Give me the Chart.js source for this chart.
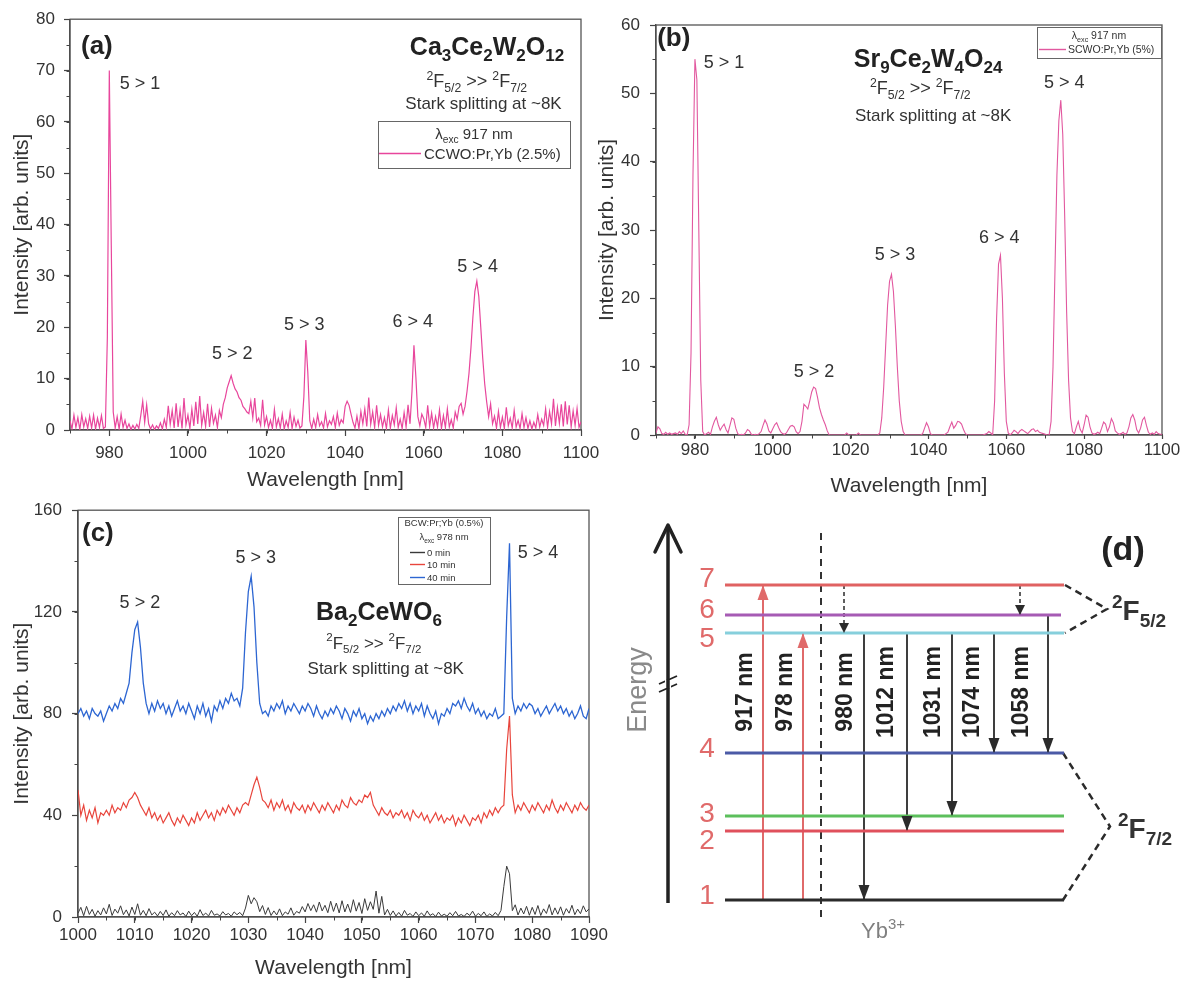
<!DOCTYPE html>
<html>
<head>
<meta charset="utf-8">
<script src="https://cdn.jsdelivr.net/npm/chart.js@4.4.1/dist/chart.umd.min.js"></script>
<style>
  html, body { margin: 0; padding: 0; background: #fff; }
  #wrap { position: relative; width: 1188px; height: 982px; overflow: hidden; background: #fff; }
  canvas { position: absolute; }
</style>
</head>
<body>
<div id="wrap">
  <canvas id="pa" width="610" height="505" style="left:0;top:0;width:610px;height:505px"></canvas>
  <canvas id="pb" width="598" height="505" style="left:590px;top:0;width:598px;height:505px"></canvas>
  <canvas id="pc" width="610" height="492" style="left:0;top:490px;width:610px;height:492px"></canvas>
  <canvas id="pd" width="588" height="492" style="left:600px;top:490px;width:588px;height:492px"></canvas>
</div>
<script>
// ---------- Spectra (a) and (b): 970-1100 nm, 0.5 nm grid ----------
const startAB = 970, stepAB = 0.5;

const intensityA = [
  1.8, 0.2, 2.9, 0.5, 2.4, 0.1, 3.0, 0.6, 2.2, 0.3,
  2.7, 0.4, 2.9, 0.2, 2.3, 0.5, 2.8, 0.3, 0.6, 18,
  70, 36, 3.5, 0.4, 2.6, 0.2, 3.1, 0.5, 1.9, 0.3,
  1.2, 0.1, 0.9, 0.2, 1.1, 0.3, 2.8, 5.6, 1.5, 4.9,
  1.2, 0.2, 1.0, 0.1, 0.8, 0.3, 1.4, 0.2, 2.1, 0.5,
  4.7, 1.1, 3.8, 0.4, 5.2, 0.6, 3.9, 0.3, 6.2, 1.0,
  2.9, 0.3, 4.1, 0.8, 5.5, 1.2, 6.6, 0.9, 3.4, 0.7,
  5.1, 0.6, 4.2, 1.3, 2.9, 0.5, 3.8, 2.4, 5.0, 6.3,
  8.2, 9.4, 10.6, 9.1, 8.0, 7.4, 6.3, 5.8, 4.6, 4.1,
  3.5, 3.2, 5.6, 2.4, 6.2, 1.6, 2.3, 0.9, 5.9, 1.0,
  2.6, 0.5, 1.9, 0.3, 4.0, 0.6, 2.2, 0.4, 3.1, 0.2,
  1.8, 0.5, 3.4, 0.3, 2.5, 0.7, 1.9, 0.4, 0.8, 6.5,
  17.5, 11.2, 1.8, 0.3, 2.1, 0.5, 3.0, 0.8, 1.6, 0.4,
  3.2, 0.6, 1.8, 1.1, 2.6, 0.5, 3.3, 0.9, 2.0, 1.4,
  4.6, 5.6, 4.8, 3.1, 1.5, 0.4, 2.7, 0.3, 3.6, 1.2,
  4.1, 0.7, 6.3, 1.1, 3.5, 0.5, 4.8, 0.9, 3.0, 0.6,
  2.4, 0.3, 3.9, 0.4, 2.8, 1.0, 4.3, 0.5, 2.1, 0.3,
  3.4, 0.6, 4.9, 1.2, 7.5, 16.5, 10.2, 2.6, 0.8, 3.1,
  2.2, 0.5, 4.8, 0.7, 3.3, 0.4, 2.6, 0.6, 3.9, 0.3,
  2.8, 0.5, 4.1, 0.6, 2.0, 0.4, 3.5, 2.1, 4.6, 5.2,
  3.1, 4.6, 7.5, 11.0, 16.0, 22.0, 27.0, 29.0, 26.0, 20.0,
  14.0, 9.0, 5.5, 2.6, 5.1, 1.2, 2.7, 0.4, 3.6, 0.5,
  2.5, 0.3, 4.4, 0.8, 2.3, 0.4, 3.8, 0.6, 1.9, 0.3,
  3.2, 0.5, 2.4, 0.3, 1.8, 0.2, 1.5, 0.4, 3.0, 0.6,
  2.1, 0.9, 4.1, 0.5, 3.6, 1.2, 6.1, 0.8, 4.4, 1.3,
  5.0, 0.7, 5.6, 1.1, 4.8, 0.6, 3.7, 0.9, 4.2, 0.5,
  1.6
];

const intensityB = [
  0.3, 1.2, 0.9, 0.2, 0.1, 0.4, 0.1, 0.3, 0.1, 0.2,
  0.3, 0.1, 0.5, 0.2, 0.6, 0.1, 0.0, 1.5, 12, 38,
  55, 52, 30, 8, 0.5, 0.0, 0.2, 0.4, 0.1, 1.2,
  2.0, 2.6, 1.5, 0.7, 1.2, 1.6, 0.8, 0.3, 1.4, 2.5,
  2.3, 1.0, 0.2, 0.0, 0.1, 0.0, 0.3, 0.8, 0.6, 0.1,
  0.0, 0.1, 0.0, 0.2, 0.5, 1.4, 2.2, 1.6, 0.6, 0.3,
  0.9, 1.5, 1.8, 1.1, 0.5, 0.2, 0.1, 0.3, 0.8, 1.3,
  1.4, 1.2, 0.5, 0.2, 0.5, 2.0, 4.5, 4.2, 3.8, 5.0,
  6.3, 7.0, 6.8, 5.5, 4.0, 3.0, 2.2, 1.5, 0.6, 0.0,
  0.0, 0.0, 0.0, 0.0, 0.0, 0.0, 0.0, 0.0, 0.3, 0.0,
  0.0, 0.0, 0.0, 0.0, 0.3, 0.0, 0.0, 0.0, 0.0, 0.0,
  0.0, 0.0, 0.0, 0.0, 0.0, 0.3, 2.5, 7, 13, 19,
  22.5, 23.5, 21, 16, 10, 5, 2, 0.5, 0.0, 0.0,
  0.0, 0.0, 0.0, 0.0, 0.0, 0.0, 0.0, 0.2, 1.0, 1.8,
  1.2, 0.2, 0.0, 0.0, 0.0, 0.0, 0.0, 0.0, 0.0, 0.2,
  0.4, 1.2, 1.9, 1.0, 1.4, 2.0, 1.9, 1.6, 0.8, 0.2,
  0.0, 0.0, 0.0, 0.0, 0.0, 0.0, 0.0, 0.0, 0.0, 0.1,
  0.2, 0.5, 0.3, 0.0, 5, 17, 25, 26.3, 20, 9,
  2, 0.3, 0.0, 0.3, 0.7, 0.5, 0.2, 0.6, 0.8, 0.6,
  0.4, 0.2, 0.5, 0.8, 0.9, 0.5, 0.7, 0.4, 0.3, 0.2,
  0.1, 0.0, 0.0, 2, 10, 24, 38, 46, 49, 44,
  32, 18, 8, 2.5, 0.5, 0.2, 1.2, 2.0, 0.8, 0.3,
  1.5, 2.9, 2.6, 1.2, 0.3, 0.1, 0.2, 0.4, 0.2, 1.0,
  1.9, 1.6, 0.5, 1.2, 2.4, 1.8, 0.6, 0.3, 0.1, 0.2,
  0.4, 0.1, 0.3, 1.2, 2.5, 3.0, 2.2, 0.8, 0.3, 1.0,
  2.2, 2.6, 1.4, 0.4, 0.1, 0.3, 0.1, 0.5, 0.2, 0.1,
  0.1
];

// ---------- Spectra (c): 1000-1090 nm, 0.5 nm grid ----------
const startC = 1000, stepC = 0.5;

const intensity0min = [
  1.5, 3.8, 0.5, 4.2, 1.0, 3.0, 0.3, 2.5, 0.8, 3.6,
  1.2, 5.0, 0.6, 3.1, 1.5, 4.4, 0.9, 2.8, 0.4, 3.9,
  1.0, 5.2, 0.7, 2.6, 0.5, 3.3, 0.8, 1.9, 0.4, 2.2,
  0.6, 2.8, 0.3, 1.7, 0.5, 2.5, 0.8, 1.6, 0.2, 2.3,
  0.5, 1.8, 0.3, 2.9, 0.6, 1.5, 0.4, 2.6, 0.7, 1.2,
  0.4, 2.1, 0.8, 1.4, 0.3, 2.0, 0.9, 1.8, 0.5, 3.5,
  8.5, 5.2, 7.6, 6.0, 2.1, 4.5, 1.0, 3.7, 0.6, 2.4,
  0.8, 3.2, 0.5, 2.0, 1.1, 3.6, 0.7, 2.2, 1.5, 4.1,
  2.0, 5.3, 2.5, 4.8, 1.9, 5.9, 2.4, 4.6, 1.7, 6.2,
  2.2, 5.5, 1.6, 6.4, 2.0, 5.1, 1.8, 6.8, 2.3, 5.7,
  1.4, 7.2, 2.6, 6.0, 3.0, 10.2, 1.5, 8.1, 0.8, 3.0,
  0.6, 2.4, 0.4, 1.8, 0.3, 2.6, 0.7, 1.4, 0.2, 2.0,
  0.5, 1.6, 0.3, 2.4, 0.6, 1.3, 0.2, 1.9, 0.4, 1.1,
  0.3, 1.7, 0.5, 2.2, 0.4, 1.0, 0.2, 1.5, 0.6, 2.3,
  0.3, 1.4, 0.5, 2.0, 0.2, 1.2, 0.4, 1.8, 0.5, 2.6,
  12, 20, 17, 2.5, 4.8, 0.8, 3.5, 1.2, 4.2, 0.7,
  3.8, 1.0, 4.5, 0.6, 3.2, 1.4, 4.9, 0.8, 3.6, 1.1,
  4.0, 0.7, 3.3, 1.5, 4.6, 0.9, 3.1, 1.3, 4.4, 2.0,
  3.2
];

const intensity10min = [
  50, 40, 44, 38, 42, 39, 43, 37, 41, 40,
  42, 40, 44, 41, 43, 42, 45, 43, 46, 47,
  49, 47, 44, 42, 40, 43, 39, 41, 38, 40,
  37, 39, 41, 38, 36, 39, 37, 40, 38, 36,
  39, 37, 41, 38, 40, 42, 39, 41, 38, 42,
  40, 43, 41, 44, 42, 40, 43, 41, 44, 45,
  44, 48, 52, 55, 51, 46, 45, 43, 46, 42,
  45, 43, 46, 42, 44, 41, 45, 43, 42, 44,
  41, 44, 42, 45, 43, 41, 44, 42, 45, 43,
  41, 44, 42, 46, 44, 43, 47, 45, 44, 46,
  45, 48, 47, 49, 44, 42, 40, 43, 41, 40,
  42, 39, 41, 40, 42, 39, 41, 38, 42, 40,
  39, 41, 38, 40, 37, 39, 41, 38, 40, 37,
  39, 38, 40, 36, 39, 37, 40, 38, 36, 39,
  38, 40, 37, 41, 39, 42, 40, 43, 41, 43,
  44, 66, 79, 48, 41, 44, 42, 45, 43, 41,
  44, 42, 45, 43, 41, 44, 42, 46, 43, 41,
  44, 42, 45, 43, 41, 44, 42, 45, 43, 42,
  44
];

const intensity40min = [
  80, 82, 79, 81, 78, 82, 80, 79, 81, 77,
  80, 83, 81, 84, 82, 86, 84, 88, 92, 104,
  113, 116, 106, 92, 84, 80, 84, 81, 85, 82,
  84, 80, 83, 79, 82, 85, 81, 83, 80, 84,
  81, 78, 83, 80, 84, 79, 82, 77, 83, 81,
  85, 82, 86, 84, 88, 85, 86, 83, 90, 112,
  128, 134, 122, 100, 84, 80, 81, 79, 83, 81,
  84, 82, 85, 80, 83, 81, 84, 82, 80, 83,
  81, 84, 82, 79, 83, 80, 78, 81, 79, 82,
  80, 83, 81, 78, 82, 80, 77, 81, 79, 82,
  78, 80, 76, 79, 77, 80, 78, 81, 79, 82,
  80, 83, 81, 84, 82, 85, 81, 84, 80, 83,
  81, 84, 79, 83, 80, 78, 81, 76, 80, 79,
  82, 80, 84, 83, 85, 82, 86, 83, 81, 84,
  80, 82, 79, 81, 78, 80, 79, 82, 78, 79,
  80, 118, 147, 86, 80, 83, 81, 84, 82, 84,
  83, 80, 82, 79, 81, 83, 80, 82, 84, 81,
  83, 80, 82, 79, 81, 78, 80, 83, 79, 78,
  82
];

// Peak assignment labels (text, wavelength, intensity where the text sits)
const peakTextA = ['5 > 1', '5 > 2', '5 > 3', '6 > 4', '5 > 4'];
const peakTextXA = [987.8, 1011.3, 1029.6, 1057.2, 1073.7];
const peakTextYA = [67.6, 15.0, 20.8, 21.4, 32.0];

const peakTextB = ['5 > 1', '5 > 2', '5 > 3', '6 > 4', '5 > 4'];
const peakTextXB = [987.5, 1010.6, 1031.4, 1058.2, 1074.9];
const peakTextYB = [54.6, 9.5, 26.6, 29.0, 51.7];

const peakTextC = ['5 > 2', '5 > 3', '5 > 4'];
const peakTextXC = [1010.9, 1031.3, 1081.0];
const peakTextYC = [123.9, 141.7, 143.7];

// ---------- Energy-level scheme (d), schematic units ----------
const levelNames = ['1', '2', '3', '4', '5', '6', '7'];
const levelEnergy = [8.2, 15.1, 16.6, 22.9, 34.9, 36.7, 39.7];
const levelStart = 12.5;
const levelEnd = [46.4, 46.4, 46.4, 46.4, 46.4, 46.1, 46.4];
const levelNameY = [8.8, 14.3, 17.0, 23.5, 34.5, 37.4, 40.5];

const transLabels = ['917 nm', '978 nm', '980 nm', '1012 nm', '1031 nm', '1074 nm', '1058 nm'];
const transFrom = [1, 1, 5, 5, 5, 5, 6];
const transTo = [7, 5, 1, 2, 3, 4, 4];
const transX = [16.3, 20.3, 26.4, 30.7, 35.2, 39.4, 44.8];
const transLabelX = [14.4, 18.4, 24.4, 28.5, 33.2, 37.1, 42.0];

const relaxFrom = [7, 7];
const relaxTo = [5, 6];
const relaxX = [24.4, 42.0];

// ---------- styling ----------
const FONT = "'Liberation Sans', Arial, Helvetica, sans-serif";
Chart.defaults.font.family = FONT;
Chart.defaults.color = '#333';

const levelColors = ['#2b2b2b', '#e0505c', '#5cbf5c', '#4b5aa6', '#86cfdc', '#a65bb4', '#e06262'];
const F_TRANS = [['2', 'sup'], ['F'], ['5/2', 'sub'], [' >> '], ['2', 'sup'], ['F'], ['7/2', 'sub']];

// ---------- helpers ----------
function partFont(size, weight, kind) {
  const s = kind ? size * 0.68 : size;
  return `${weight} ${s}px ${FONT}`;
}
function richWidth(ctx, parts, size, weight) {
  let w = 0;
  for (const [t, k] of parts) { ctx.font = partFont(size, weight, k); w += ctx.measureText(t).width; }
  return w;
}
// draws a run of text with sub/superscripts; (px, py) is the visual middle
function drawRich(ctx, item, px, py) {
  const size = item.size, weight = item.weight || 'normal';
  ctx.save();
  ctx.translate(px, py);
  if (item.rotate) ctx.rotate(item.rotate);
  const w = richWidth(ctx, item.parts, size, weight);
  let x = item.align === 'left' ? 0 : item.align === 'right' ? -w : -w / 2;
  ctx.textAlign = 'left';
  ctx.textBaseline = 'alphabetic';
  ctx.fillStyle = item.color || '#333';
  for (const [t, k] of item.parts) {
    ctx.font = partFont(size, weight, k);
    let dy = size * 0.36;
    if (k === 'sub') dy += size * 0.26;
    if (k === 'sup') dy -= size * 0.42;
    ctx.fillText(t, x, dy);
    x += ctx.measureText(t).width;
  }
  ctx.restore();
}
function points(start, step, values) {
  return values.map((v, i) => ({ x: start + step * i, y: v }));
}

// ---------- plugins ----------
function framePlugin(c) {
  return {
    id: 'frame',
    beforeDatasetsDraw(chart) {
      const { ctx, chartArea: a, scales: { x, y } } = chart;
      ctx.save();
      ctx.strokeStyle = '#555';
      ctx.lineWidth = 1.3;
      ctx.strokeRect(a.left, a.top, a.right - a.left, a.bottom - a.top);
      ctx.lineWidth = 1;
      ctx.strokeStyle = '#444';
      ctx.beginPath();
      for (let v = Math.ceil(x.min / c.xMinor) * c.xMinor; v <= x.max + 1e-9; v += c.xMinor) {
        const px = Math.round(x.getPixelForValue(v)) + 0.5;
        ctx.moveTo(px, a.bottom); ctx.lineTo(px, a.bottom + 3.5);
      }
      for (let v = Math.ceil(y.min / c.yMinor) * c.yMinor; v <= y.max + 1e-9; v += c.yMinor) {
        const py = Math.round(y.getPixelForValue(v)) + 0.5;
        ctx.moveTo(a.left, py); ctx.lineTo(a.left - 3.5, py);
      }
      ctx.stroke();
      ctx.restore();
    }
  };
}
function notesPlugin(items) {
  return {
    id: 'notes',
    afterDatasetsDraw(chart) {
      const { ctx, scales: { x, y } } = chart;
      for (const it of items) drawRich(ctx, it, x.getPixelForValue(it.x), y.getPixelForValue(it.y));
    }
  };
}
function boxLegendPlugin(o) {
  return {
    id: 'boxLegend',
    afterDraw(chart) {
      const { ctx, chartArea: a } = chart;
      const left = Math.round(a.right - o.right - o.width), top = Math.round(a.top + o.top);
      ctx.save();
      ctx.fillStyle = '#fff';
      ctx.fillRect(left, top, o.width, o.height);
      ctx.strokeStyle = '#666';
      ctx.lineWidth = 1;
      ctx.strokeRect(left + 0.5, top + 0.5, o.width, o.height);
      o.header.forEach((parts, k) => drawRich(ctx, { parts, size: o.size, align: 'center', color: '#333' }, left + o.width / 2, top + o.headerY[k]));
      o.items.forEach((di, k) => {
        const ds = chart.data.datasets[di];
        const yy = top + o.itemY[k] + 0.5;
        ctx.strokeStyle = ds.borderColor;
        ctx.lineWidth = 1.4;
        ctx.beginPath(); ctx.moveTo(left + o.lineFrom, yy); ctx.lineTo(left + o.lineTo, yy); ctx.stroke();
        drawRich(ctx, { parts: [[ds.label]], size: o.size, align: 'left', color: '#333' }, left + o.textAt, yy);
      });
      ctx.restore();
    }
  };
}
const arrowPlugin = {
  id: 'arrowHeads',
  afterDatasetsDraw(chart) {
    const ctx = chart.ctx;
    chart.data.datasets.forEach((ds, i) => {
      if (!ds.arrow) return;
      const pts = chart.getDatasetMeta(i).data;
      const p1 = pts[pts.length - 1], p0 = pts[pts.length - 2];
      const ang = Math.atan2(p1.y - p0.y, p1.x - p0.x);
      const L = ds.arrow.length, W = ds.arrow.half;
      ctx.save();
      ctx.translate(p1.x, p1.y);
      ctx.rotate(ang);
      ctx.beginPath();
      if (ds.arrow.open) {
        ctx.moveTo(-L, -W); ctx.lineTo(0, 0); ctx.lineTo(-L, W);
        ctx.strokeStyle = ds.borderColor; ctx.lineWidth = ds.borderWidth;
        ctx.lineCap = 'round'; ctx.lineJoin = 'round';
        ctx.stroke();
      } else {
        ctx.moveTo(0, 0); ctx.lineTo(-L, -W); ctx.lineTo(-L, W); ctx.closePath();
        ctx.fillStyle = ds.borderColor; ctx.fill();
      }
      ctx.restore();
    });
  }
};

// ---------- spectrum chart builder ----------
function spectrumChart(id, c) {
  return new Chart(document.getElementById(id), {
    type: 'line',
    data: { datasets: c.datasets },
    options: {
      responsive: false,
      animation: false,
      devicePixelRatio: 1,
      events: [],
      layout: { padding: c.padding },
      elements: { point: { radius: 0 }, line: { tension: 0 } },
      plugins: { legend: { display: false }, tooltip: { enabled: false } },
      scales: {
        x: {
          type: 'linear', min: c.xMin, max: c.xMax,
          ticks: { stepSize: c.xStep, padding: c.xTickPad, maxRotation: 0, autoSkip: false, color: '#333', font: { size: 17 }, callback: v => String(v) },
          afterBuildTicks: s => {
            const t = [];
            for (let v = Math.ceil(c.xMin / c.xStep) * c.xStep; v <= c.xMax + 1e-9; v += c.xStep) t.push({ value: v });
            s.ticks = t;
          },
          afterFit: s => { s.height = c.xHeight; },
          grid: { drawOnChartArea: false, drawTicks: true, tickLength: c.xTickLen, color: '#444', tickColor: '#444', tickWidth: 1.2 },
          border: { display: true, color: '#444', width: 1.3 },
          title: { display: true, text: 'Wavelength [nm]', color: '#333', font: { size: 21, lineHeight: 1.2 }, padding: { top: 0, bottom: c.xTitlePad } }
        },
        y: {
          type: 'linear', min: 0, max: c.yMax,
          ticks: { stepSize: c.yStep, padding: c.yTickPad, color: '#333', font: { size: 17 }, callback: v => String(v) },
          afterFit: s => { s.width = c.yWidth; },
          grid: { drawOnChartArea: false, drawTicks: true, tickLength: 6, color: '#444', tickColor: '#444', tickWidth: 1.2 },
          border: { display: true, color: '#444', width: 1.3 },
          title: { display: true, text: 'Intensity [arb. units]', color: '#333', font: { size: 21, lineHeight: 1.2 }, padding: { top: c.yTitlePad, bottom: 0 } }
        }
      }
    },
    plugins: [framePlugin(c), notesPlugin(c.notes), boxLegendPlugin(c.legend)]
  });
}
function peakNotes(texts, xs, ys) {
  return texts.map((t, i) => ({ x: xs[i], y: ys[i], parts: [[t]], size: 18, align: 'center', color: '#333' }));
}

// ---------- (a) Ca3Ce2W2O12 ----------
spectrumChart('pa', {
  datasets: [{ label: 'CCWO:Pr,Yb (2.5%)', data: points(startAB, stepAB, intensityA), borderColor: '#e8469c', borderWidth: 1.2 }],
  padding: { left: 0, top: 18, right: 29, bottom: 0 },
  xMin: 970, xMax: 1100, xStep: 20, xMinor: 10, xTickPad: 7, xTickLen: 6, xHeight: 75, xTitlePad: 12,
  yMax: 80, yStep: 10, yMinor: 5, yTickPad: 9, yWidth: 70, yTitlePad: 10,
  notes: [
    { x: 972.8, y: 75.1, parts: [['(a)']], size: 26, weight: 'bold', align: 'left', color: '#222' },
    { x: 1095.7, y: 74.8, parts: [['Ca'], ['3', 'sub'], ['Ce'], ['2', 'sub'], ['W'], ['2', 'sub'], ['O'], ['12', 'sub']], size: 25, weight: 'bold', align: 'right', color: '#222' },
    { x: 1073.5, y: 68.0, parts: F_TRANS, size: 18, align: 'center', color: '#333' },
    { x: 1075.2, y: 63.7, parts: [['Stark splitting at ~8K']], size: 17, align: 'center', color: '#333' }
  ].concat(peakNotes(peakTextA, peakTextXA, peakTextYA)),
  legend: {
    right: 11, top: 102, width: 192, height: 47, size: 15,
    header: [[['λ'], ['exc', 'sub'], [' 917 nm']]], headerY: [13],
    items: [0], itemY: [32], lineFrom: 1, lineTo: 43, textAt: 46
  }
});

// ---------- (b) Sr9Ce2W4O24 ----------
spectrumChart('pb', {
  datasets: [{ label: 'SCWO:Pr,Yb (5%)', data: points(startAB, stepAB, intensityB), borderColor: '#e2589f', borderWidth: 1.1 }],
  padding: { left: 0, top: 25, right: 26, bottom: 0 },
  xMin: 970, xMax: 1100, xStep: 20, xMinor: 10, xTickPad: 1, xTickLen: 4, xHeight: 70, xTitlePad: 6,
  yMax: 60, yStep: 10, yMinor: 5, yTickPad: 10, yWidth: 66, yTitlePad: 5,
  notes: [
    { x: 970.3, y: 58.3, parts: [['(b)']], size: 26, weight: 'bold', align: 'left', color: '#222' },
    { x: 1039.9, y: 55.2, parts: [['Sr'], ['9', 'sub'], ['Ce'], ['2', 'sub'], ['W'], ['4', 'sub'], ['O'], ['24', 'sub']], size: 25, weight: 'bold', align: 'center', color: '#222' },
    { x: 1037.9, y: 50.8, parts: F_TRANS, size: 18, align: 'center', color: '#333' },
    { x: 1041.2, y: 46.9, parts: [['Stark splitting at ~8K']], size: 17, align: 'center', color: '#333' }
  ].concat(peakNotes(peakTextB, peakTextXB, peakTextYB)),
  legend: {
    right: 1, top: 2, width: 124, height: 31, size: 10.5,
    header: [[['λ'], ['exc', 'sub'], [' 917 nm']]], headerY: [8],
    items: [0], itemY: [22], lineFrom: 2, lineTo: 29, textAt: 31
  }
});

// ---------- (c) Ba2CeWO6 ----------
spectrumChart('pc', {
  datasets: [
    { label: '0 min', data: points(startC, stepC, intensity0min), borderColor: '#3a3a3a', borderWidth: 1 },
    { label: '10 min', data: points(startC, stepC, intensity10min), borderColor: '#e8453c', borderWidth: 1.2 },
    { label: '40 min', data: points(startC, stepC, intensity40min), borderColor: '#2d66d2', borderWidth: 1.3 }
  ],
  padding: { left: 0, top: 15, right: 21, bottom: 0 },
  xMin: 1000, xMax: 1090, xStep: 10, xMinor: 5, xTickPad: 2, xTickLen: 6, xHeight: 65, xTitlePad: 1,
  yMax: 160, yStep: 40, yMinor: 20, yTickPad: 10, yWidth: 78, yTitlePad: 10,
  notes: [
    { x: 1000.7, y: 151.5, parts: [['(c)']], size: 26, weight: 'bold', align: 'left', color: '#222' },
    { x: 1053.0, y: 120.4, parts: [['Ba'], ['2', 'sub'], ['CeWO'], ['6', 'sub']], size: 25, weight: 'bold', align: 'center', color: '#222' },
    { x: 1052.1, y: 108.0, parts: F_TRANS, size: 17, align: 'center', color: '#333' },
    { x: 1054.2, y: 98.0, parts: [['Stark splitting at ~8K']], size: 17, align: 'center', color: '#333' }
  ].concat(peakNotes(peakTextC, peakTextXC, peakTextYC)),
  legend: {
    right: 99, top: 7, width: 92, height: 67, size: 9.5,
    header: [[['BCW:Pr;Yb (0.5%)']], [['λ'], ['exc', 'sub'], [' 978 nm']]], headerY: [6, 20],
    items: [0, 1, 2], itemY: [35, 47, 60], lineFrom: 12, lineTo: 27, textAt: 29
  }
});

// ---------- (d) Yb3+ Stark-level scheme ----------
const E = n => levelEnergy[n - 1];
const diagram = [];
levelEnergy.forEach((e, i) => diagram.push({
  data: [{ x: levelStart, y: e }, { x: levelEnd[i], y: e }], borderColor: levelColors[i], borderWidth: 3
}));
// Yb3+ separator
diagram.push({ data: [{ x: 22.1, y: 6.5 }, { x: 22.1, y: 45.2 }], borderColor: '#333', borderWidth: 2, borderDash: [7, 6] });
// excitation and emission arrows
transX.forEach((x, i) => {
  const up = transFrom[i] < transTo[i];
  diagram.push({
    data: [{ x, y: E(transFrom[i]) }, { x, y: E(transTo[i]) }],
    borderColor: up ? '#e06a6a' : '#2b2b2b', borderWidth: up ? 2 : 1.8,
    arrow: { length: 15, half: 5.5 }
  });
});
// non-radiative relaxation
relaxX.forEach((x, i) => diagram.push({
  data: [{ x, y: E(relaxFrom[i]) }, { x, y: E(relaxTo[i]) + 0.9 }, { x, y: E(relaxTo[i]) }],
  borderColor: '#2b2b2b', borderWidth: 1.5, borderDash: [4, 3], arrow: { length: 10, half: 5 }
}));
// multiplet brackets
diagram.push({
  data: [{ x: 46.5, y: E(7) }, { x: 50.7, y: (E(7) + E(5)) / 2 }, { x: 46.5, y: E(5) }],
  borderColor: '#2b2b2b', borderWidth: 2.5, borderDash: [7, 5]
});
diagram.push({
  data: [{ x: 46.3, y: E(4) }, { x: 51.0, y: (E(4) + E(1)) / 2 }, { x: 46.3, y: E(1) }],
  borderColor: '#2b2b2b', borderWidth: 2.5, borderDash: [7, 5]
});
// energy axis with break
diagram.push({ data: [{ x: 6.8, y: 7.9 }, { x: 6.8, y: 45.7 }], borderColor: '#222', borderWidth: 3.5, arrow: { length: 27, half: 13, open: true } });
diagram.push({ data: [{ x: 6.8, y: 29.4 }, { x: 6.8, y: 30.2 }], borderColor: '#fff', borderWidth: 6 });
diagram.push({ data: [{ x: 5.9, y: 29.0 }, { x: 7.7, y: 29.8 }], borderColor: '#222', borderWidth: 1.8 });
diagram.push({ data: [{ x: 5.9, y: 29.8 }, { x: 7.7, y: 30.6 }], borderColor: '#222', borderWidth: 1.8 });

const diagramNotes = [
  { x: 52.3, y: 43.4, parts: [['(d)']], size: 34, weight: 'bold', align: 'center', color: '#222' },
  { x: 3.6, y: 29.2, parts: [['Energy']], size: 27, align: 'center', color: '#8a8a8a', rotate: -Math.PI / 2 },
  { x: 51.2, y: 37.2, parts: [['2', 'sup'], ['F'], ['5/2', 'sub']], size: 28, weight: 'bold', align: 'left', color: '#333' },
  { x: 51.8, y: 15.4, parts: [['2', 'sup'], ['F'], ['7/2', 'sub']], size: 28, weight: 'bold', align: 'left', color: '#333' },
  { x: 28.3, y: 5.2, parts: [['Yb'], ['3+', 'sup']], size: 22, align: 'center', color: '#808080' }
].concat(
  levelNames.map((n, i) => ({ x: 10.7, y: levelNameY[i], parts: [[n]], size: 28, align: 'center', color: '#e06a6a' })),
  transLabels.map((t, i) => ({ x: transLabelX[i], y: 29.0, parts: [[t]], size: 23, weight: 'bold', align: 'center', color: '#222', rotate: -Math.PI / 2 }))
);

new Chart(document.getElementById('pd'), {
  type: 'scatter',
  data: { datasets: diagram.map(d => Object.assign({ showLine: true, pointRadius: 0, fill: false, tension: 0 }, d)) },
  options: {
    responsive: false,
    animation: false,
    devicePixelRatio: 1,
    events: [],
    layout: { padding: 0 },
    plugins: { legend: { display: false }, tooltip: { enabled: false } },
    scales: {
      x: { type: 'linear', display: false, min: 0, max: 58.8 },
      y: { type: 'linear', display: false, min: 0, max: 49.2 }
    }
  },
  plugins: [arrowPlugin, notesPlugin(diagramNotes)]
});
</script>
</body>
</html>
